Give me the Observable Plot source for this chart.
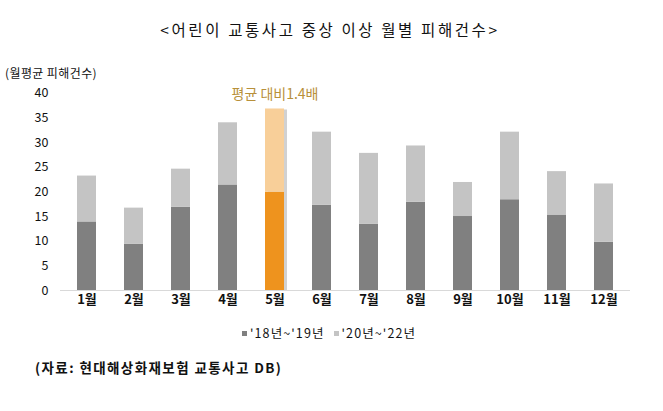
<!DOCTYPE html>
<html><head><meta charset="utf-8">
<script src="https://cdn.jsdelivr.net/npm/d3@7"></script>
<script src="https://cdn.jsdelivr.net/npm/@observablehq/plot@0.6"></script>
<style>
body{margin:0;background:#fff;font-family:"Noto Sans CJK KR","Noto Sans",sans-serif;color:#000}
#wrap{position:relative;width:663px;height:411px;overflow:hidden;background:#fff}
#title{position:absolute;left:0;width:660px;top:19px;line-height:20px;font-size:15.5px;letter-spacing:2.6px;text-align:center;color:#111}
#chart{position:absolute;left:0;top:0}
#unit{position:absolute;left:5px;top:63px;line-height:20px;font-size:12px;letter-spacing:0.4px;color:#111}
#legend{position:absolute;left:242px;top:323px;line-height:20px;font-size:12.5px;display:flex;gap:9px;color:#111;letter-spacing:1.1px}
#legend span.sw{display:inline-block;width:5px;height:5px;margin-right:3px;vertical-align:middle;position:relative;top:-1px}
#source{position:absolute;left:35px;top:357px;line-height:20px;font-size:13.5px;font-weight:700;letter-spacing:1.4px;color:#111}
</style></head>
<body><div id="wrap">
<div id="chart"></div>
<div id="title"></div>
<div id="unit"></div>
<div id="legend"></div>
<div id="source"></div>
</div>
<script>
const titleText = "<어린이 교통사고 중상 이상 월별 피해건수>";
const unitText = "(월평균 피해건수)";
const sourceText = "(자료: 현대해상화재보험 교통사고 DB)";
const noteText = "평균 대비1.4배";
const months = ["1월","2월","3월","4월","5월","6월","7월","8월","9월","10월","11월","12월"];
const seriesNames = ["'18년~'19년", "'20년~'22년"];
const values1819 = [13.9, 9.4, 16.9, 21.4, 19.9, 17.3, 13.4, 17.9, 15.0, 18.4, 15.3, 9.8];
const values2022 = [9.3, 7.3, 7.7, 12.6, 16.9, 14.8, 14.4, 11.4, 6.9, 13.7, 8.8, 11.8];
const yTicks = [0, 5, 10, 15, 20, 25, 30, 35, 40];
const highlightMonth = "5월";

const colors = {
  normal: ["#808080", "#c4c4c4"],
  highlight: ["#ee931e", "#f8cf99"]
};

const rows = [];
months.forEach((m, i) => {
  rows.push({month: m, series: seriesNames[0], idx: 0, value: values1819[i]});
  rows.push({month: m, series: seriesNames[1], idx: 1, value: values2022[i]});
});
const totals = months.map((m, i) => ({month: m, total: values1819[i] + values2022[i]}));

const plot = Plot.plot({
  width: 663,
  height: 320,
  marginTop: 92.7,
  marginBottom: 30,
  marginLeft: 60,
  marginRight: 33,
  style: {fontFamily: '"Noto Sans CJK KR", sans-serif', background: "transparent", color: "#111"},
  x: {domain: months, paddingInner: 0.6, paddingOuter: 0.3, label: null},
  y: {domain: [0, 40], label: null},
  color: {type: "identity"},
  marks: [
    Plot.barY(totals.filter(d => d.month === highlightMonth), {
      x: "month", y: "total", dx: 3, dy: 1, fill: "#9a9a9a", fillOpacity: 0.45
    }),
    Plot.barY(rows, Plot.stackY({
      x: "month", y: "value", order: "idx",
      fill: d => (d.month === highlightMonth ? colors.highlight : colors.normal)[d.idx]
    })),
    Plot.ruleY([0], {stroke: "#d9d9d9", strokeWidth: 1.2}),
    Plot.axisY({ticks: yTicks, tickSize: 0, tickPadding: 12, fontSize: 12.5, label: null}),
    Plot.axisX({tickSize: 0, tickPadding: 4, fontSize: 13, fontWeight: "bold", label: null}),
    Plot.text([{month: highlightMonth, label: noteText}], {
      x: "month", text: "label", frameAnchor: "top", dy: -4,
      fill: "#b8903a", fontSize: 14, letterSpacing: 0.6
    })
  ]
});
document.getElementById("chart").appendChild(plot);

document.getElementById("title").textContent = titleText;
document.getElementById("unit").textContent = unitText;
document.getElementById("source").textContent = sourceText;
const leg = document.getElementById("legend");
seriesNames.forEach((s, i) => {
  const item = document.createElement("div");
  const sw = document.createElement("span");
  sw.className = "sw";
  sw.style.background = colors.normal[i];
  item.appendChild(sw);
  item.appendChild(document.createTextNode(s));
  leg.appendChild(item);
});
</script>
</body></html>
